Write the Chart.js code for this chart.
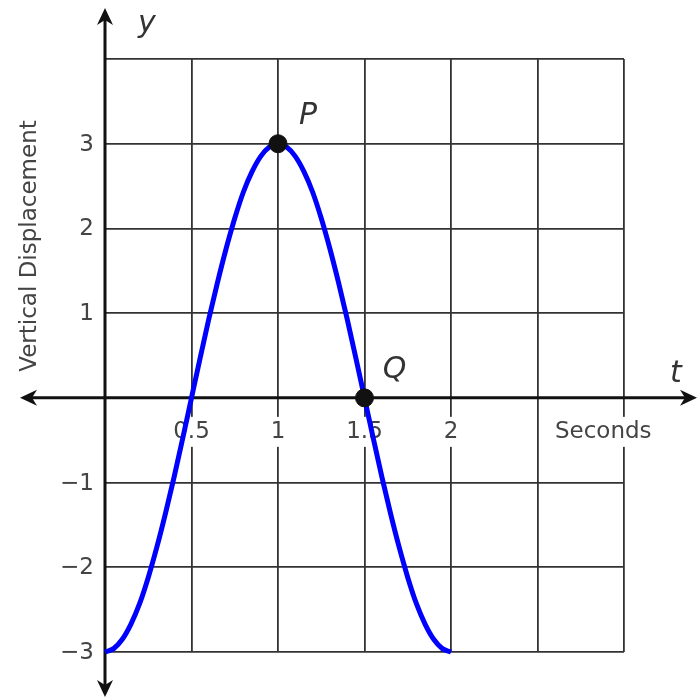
<!DOCTYPE html>
<html>
<head>
<meta charset="utf-8">
<script src="https://cdn.jsdelivr.net/npm/chart.js@4.4.1/dist/chart.umd.min.js"></script>
<style>
  html, body { margin: 0; padding: 0; background: #fff; }
  #wrap { width: 698px; height: 698px; }
</style>
</head>
<body>
<div id="wrap"><canvas id="sineChart" width="698" height="698"></canvas></div>
<script>
// time (seconds) and vertical displacement
const times = [0, 0.05, 0.1, 0.15, 0.2, 0.25, 0.3, 0.35, 0.4, 0.45, 0.5,
               0.55, 0.6, 0.65, 0.7, 0.75, 0.8, 0.85, 0.9, 0.95, 1.0,
               1.05, 1.1, 1.15, 1.2, 1.25, 1.3, 1.35, 1.4, 1.45, 1.5,
               1.55, 1.6, 1.65, 1.7, 1.75, 1.8, 1.85, 1.9, 1.95, 2.0];
const displacement = [-3, -2.96, -2.85, -2.67, -2.43, -2.12, -1.76, -1.36, -0.93, -0.47, 0,
                      0.47, 0.93, 1.36, 1.76, 2.12, 2.43, 2.67, 2.85, 2.96, 3,
                      2.96, 2.85, 2.67, 2.43, 2.12, 1.76, 1.36, 0.93, 0.47, 0,
                      -0.47, -0.93, -1.36, -1.76, -2.12, -2.43, -2.67, -2.85, -2.96, -3];

const markedNames = ['P', 'Q'];
const markedT = [1, 1.5];
const markedY = [3, 0];

const xTickValues = [0.5, 1, 1.5, 2];
const xTickLabels = ['0.5', '1', '1.5', '2'];
const yTickValues = [3, 2, 1, -1, -2, -3];
const yTickLabels = ['3', '2', '1', '\u22121', '\u22122', '\u22123'];

const xUnitLabel = 'Seconds';
const yTitle = 'Vertical Displacement';

const textColor = '#444';
const font = 'DejaVu Sans, Verdana, sans-serif';

function arrow(ctx, x, y, dir) {
  const len = 17, half = 8, notch = 5;
  ctx.save();
  ctx.translate(x, y);
  const rot = { up: 0, right: Math.PI / 2, down: Math.PI, left: -Math.PI / 2 }[dir];
  ctx.rotate(rot);
  ctx.beginPath();
  ctx.moveTo(0, 0);
  ctx.lineTo(half, len);
  ctx.lineTo(0, len - notch);
  ctx.lineTo(-half, len);
  ctx.closePath();
  ctx.fillStyle = '#111';
  ctx.fill();
  ctx.restore();
}

const decorPlugin = {
  id: 'decor',
  beforeDatasetsDraw(chart) {
    const ctx = chart.ctx;
    const xs = chart.scales.x;
    const ys = chart.scales.y;
    const x0 = xs.getPixelForValue(0);
    const y0 = ys.getPixelForValue(0);

    // axes with arrows
    ctx.save();
    ctx.strokeStyle = '#111';
    ctx.lineWidth = 3;
    ctx.beginPath();
    ctx.moveTo(x0, 14);
    ctx.lineTo(x0, 690);
    ctx.moveTo(26, y0);
    ctx.lineTo(690, y0);
    ctx.stroke();
    ctx.restore();
    arrow(ctx, x0, 8, 'up');
    arrow(ctx, x0, 697, 'down');
    arrow(ctx, 20, y0, 'left');
    arrow(ctx, 697, y0, 'right');

    ctx.save();
    ctx.font = '23px ' + font;
    ctx.textBaseline = 'middle';

    // y tick labels
    ctx.fillStyle = textColor;
    ctx.textAlign = 'right';
    yTickValues.forEach((v, i) => {
      ctx.fillText(yTickLabels[i], x0 - 11, ys.getPixelForValue(v) + 1);
    });

    // x tick labels with white backing that breaks the grid
    ctx.textAlign = 'center';
    const labelY = y0 + 34;
    const drawBoxed = (text, cx) => {
      const w = ctx.measureText(text).width;
      ctx.fillStyle = '#fff';
      ctx.fillRect(cx - w / 2 - 2, labelY - 15, w + 4, 30);
      ctx.fillStyle = textColor;
      ctx.fillText(text, cx, labelY);
    };
    xTickValues.forEach((v, i) => drawBoxed(xTickLabels[i], xs.getPixelForValue(v)));
    drawBoxed(xUnitLabel, xs.getPixelForValue(2.88));

    // y title
    ctx.save();
    ctx.translate(30, 246);
    ctx.rotate(-Math.PI / 2);
    ctx.fillStyle = textColor;
    ctx.fillText(yTitle, 0, 0);
    ctx.restore();

    // axis names
    ctx.font = 'italic 30px ' + font;
    ctx.fillStyle = '#333';
    ctx.fillText('y', 147, 24);
    ctx.fillText('t', 676, 374);
    ctx.restore();
  },
  afterDatasetsDraw(chart) {
    const ctx = chart.ctx;
    const xs = chart.scales.x;
    const ys = chart.scales.y;
    ctx.save();
    ctx.font = 'italic 30px ' + font;
    ctx.fillStyle = '#333';
    ctx.textAlign = 'center';
    ctx.textBaseline = 'middle';
    markedNames.forEach((name, i) => {
      const px = xs.getPixelForValue(markedT[i]);
      const py = ys.getPixelForValue(markedY[i]);
      ctx.fillText(name, px + 30, py - 28);
    });
    ctx.restore();
  }
};

new Chart(document.getElementById('sineChart'), {
  type: 'scatter',
  data: {
    datasets: [
      {
        data: times.map((t, i) => ({ x: t, y: displacement[i] })),
        showLine: true,
        borderColor: '#0000ff',
        borderWidth: 5,
        pointRadius: 0,
        cubicInterpolationMode: 'monotone',
        clip: false,
        order: 2
      },
      {
        data: markedT.map((t, i) => ({ x: t, y: markedY[i] })),
        pointRadius: 9,
        pointBackgroundColor: '#111',
        pointBorderColor: '#111',
        pointBorderWidth: 1,
        clip: false,
        order: 1
      }
    ]
  },
  options: {
    responsive: false,
    animation: false,
    layout: { padding: { left: 105, right: 74, top: 59, bottom: 46 } },
    plugins: { legend: { display: false }, tooltip: { enabled: false } },
    scales: {
      x: {
        type: 'linear',
        min: 0,
        max: 3,
        ticks: { display: false, stepSize: 0.5 },
        grid: { color: '#333', lineWidth: 1.8, drawTicks: false },
        border: { display: false }
      },
      y: {
        type: 'linear',
        min: -3,
        max: 4,
        ticks: { display: false, stepSize: 1 },
        grid: { color: '#333', lineWidth: 1.8, drawTicks: false },
        border: { display: false }
      }
    }
  },
  plugins: [decorPlugin]
});
</script>
</body>
</html>
